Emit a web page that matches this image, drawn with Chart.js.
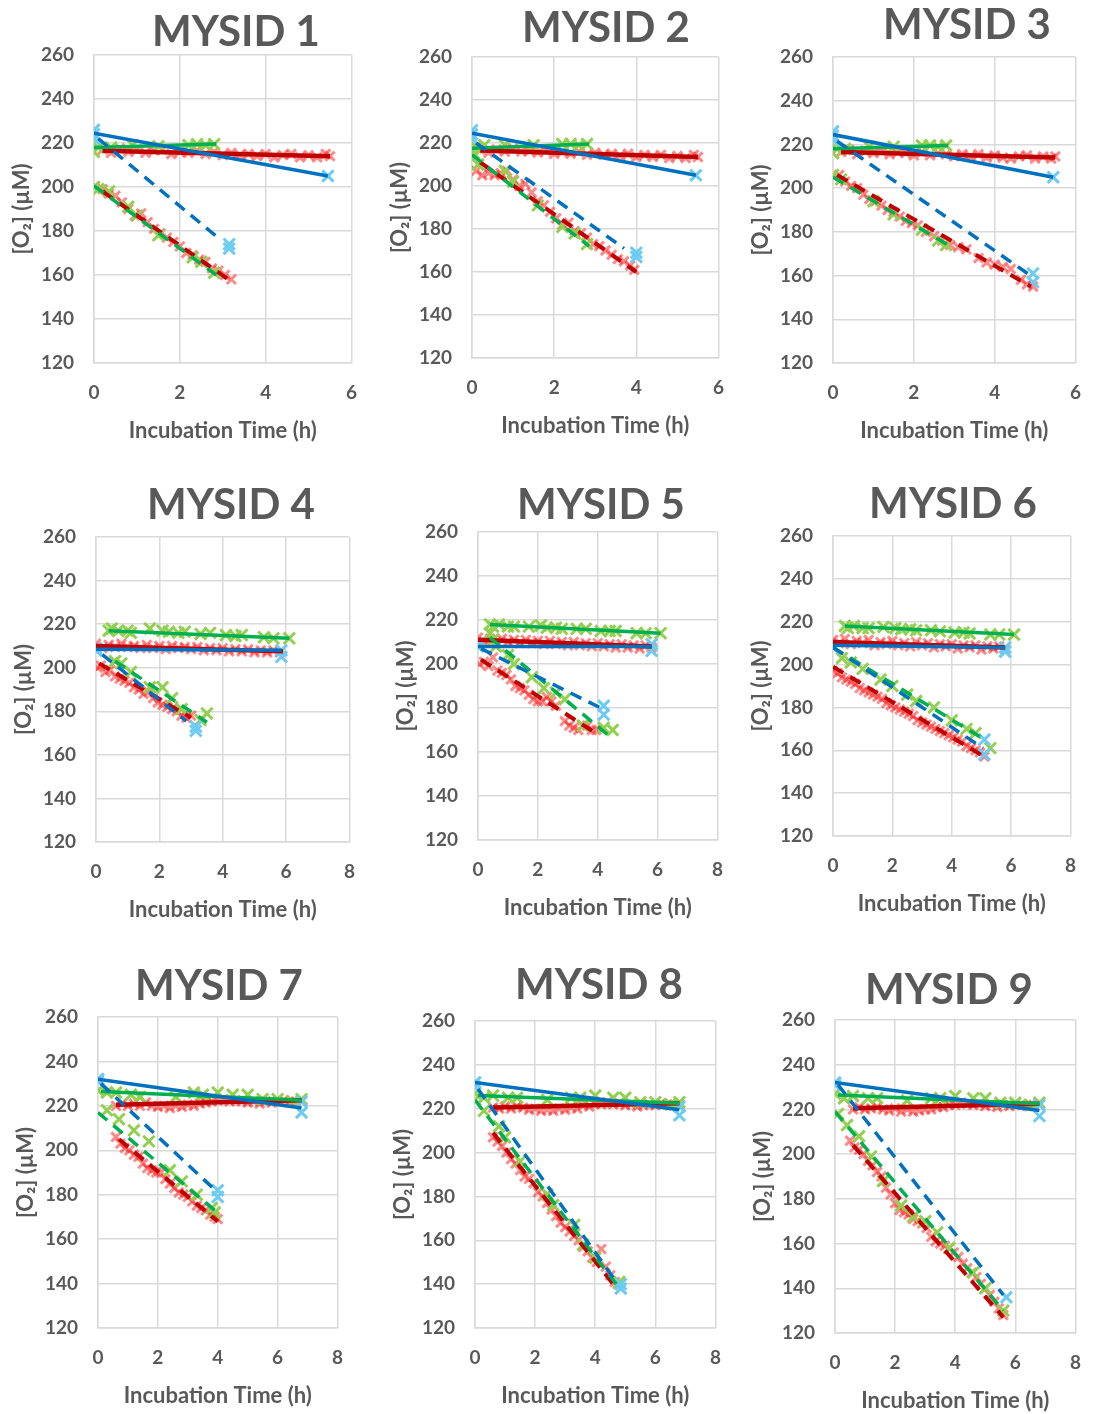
<!DOCTYPE html>
<html><head><meta charset="utf-8">
<script src="https://cdn.jsdelivr.net/npm/chart.js@4.4.1/dist/chart.umd.min.js"></script>
<style>
html,body{margin:0;padding:0;background:#fff;overflow:hidden;width:1097px;height:1414px;position:relative;}
canvas{position:absolute;}
</style></head><body>
<script>
// ---------------- DATA ----------------
const titles = ['MYSID 1','MYSID 2','MYSID 3','MYSID 4','MYSID 5','MYSID 6','MYSID 7','MYSID 8','MYSID 9'];
const xMaxes = [6,6,6,8,8,8,8,8,8];
const yMin = 120, yMax = 260, yStep = 20, xStep = 2;
const xAxisTitle = 'Incubation Time (h)';
const yAxisTitle = '[O₂] (µM)';

// blue (light-blue markers, blue trend lines)
const blueCtrlPts = [
  [[0,224],[0,226],[5.45,205]],
  [[0,224],[0,226],[5.45,205]],
  [[0,224],[0,226],[5.45,205]],
  [[0,208],[0,209],[5.85,208],[5.85,205]],
  [[0,208],[0,209],[5.8,209],[5.8,206]],
  [[0,208],[0,209],[5.8,208],[5.8,206]],
  [[0,232],[0,231],[6.8,217],[6.8,222]],
  [[0,232],[0,230],[6.8,217],[6.8,221]],
  [[0,232],[0,231],[6.8,217],[6.8,222]]
];
const blueExpPts = [
  [[0,222],[3.15,172],[3.15,174]],
  [[0,222],[4.0,167],[4.0,169]],
  [[0,222],[4.95,161],[4.95,157]],
  [[0,208],[3.15,171],[3.15,173]],
  [[0,208],[4.2,181],[4.2,177]],
  [[0,208],[5.1,165],[5.1,158]],
  [[0,232],[4.0,182],[4.0,179]],
  [[0,232],[4.85,138],[4.85,140]],
  [[0,232],[5.7,136]]
];
const blueCtrlFit = [[0,224.5,5.45,205],[0,224.5,5.45,205],[0,224.5,5.45,205],[0,208.5,5.85,208],[0,208,5.8,208],[0,209,5.8,208],[0,232,6.8,219],[0,232,6.8,219.5],[0,232,6.8,219.5]];
const blueExpFit  = [[0.1,222,2.95,176],[0.1,220,3.7,171],[0.1,221.5,4.85,160.5],[0.2,206,2.85,175.5],[0.1,207,4.1,180],[0,208,5.05,161],[0.1,230,4.0,181],[0.1,229,4.7,141],[0.1,231,5.6,137]];

// green (light-green markers, green trend lines)
const greenCtrlPts = [
  [[0,216],[0.1,218],[0.4,218],[0.9,219],[1.5,218.5],[2.2,219],[2.4,219.5],[2.6,219],[2.8,219.5]],
  [[0,217],[0.1,218],[0.3,219],[0.8,219],[1.5,219],[2.2,219.5],[2.4,219.5],[2.6,219],[2.8,219.5]],
  [[0,216],[0.1,218],[0.3,218],[0.9,219],[1.5,219],[2.2,219.5],[2.4,219.5],[2.6,219],[2.8,219.5]],
  [[0.4,217],[0.5,218],[0.7,217],[1.0,217],[1.1,216],[1.7,218],[2.1,217],[2.3,216.5],[2.6,216],[2.8,216.5],[3.3,215.5],[3.6,216],[4.1,215],[4.4,214.5],[4.6,215],[5.3,214],[5.6,213.5],[6.1,213.5]],
  [[0.4,218],[0.5,217],[0.7,218],[1.0,217],[1.2,217],[1.7,217],[2.1,217.5],[2.3,216.5],[2.6,216.5],[2.8,216],[3.3,216],[3.6,216],[4.1,215],[4.4,215],[4.6,215],[5.3,214],[5.6,214],[6.1,214]],
  [[0.4,218],[0.5,217],[0.7,218],[1.0,217],[1.2,217],[1.7,217.5],[2.1,217],[2.3,216.5],[2.6,216.5],[2.8,216],[3.3,216],[3.6,215.5],[4.1,215],[4.4,215],[4.6,214.5],[5.3,214],[5.6,214],[6.1,214]],
  [[0,227],[0.3,226],[0.6,226],[1.1,225],[1.4,224],[2.6,224],[3.2,226],[3.5,225],[4.0,226],[4.5,225],[5.0,225],[5.5,223],[6.0,223],[6.5,222],[6.8,223]],
  [[0,227],[0.3,225],[0.6,226],[1.1,225],[1.4,225],[2.4,224],[3.2,225],[3.5,225],[4.0,226],[4.6,225],[5.0,225],[5.5,223],[6.0,223],[6.5,222],[6.8,223]],
  [[0,227],[0.3,225],[0.6,226],[1.1,225],[1.4,225],[2.4,224],[3.2,225],[3.5,225],[4.0,226],[4.6,225],[5.0,225],[5.5,223],[6.0,223],[6.5,222],[6.8,223]]
];
const greenExpPts = [
  [[0,200],[0.1,199],[0.35,198],[0.8,191],[1.0,187],[1.5,178],[2.3,168],[2.5,166],[2.8,161]],
  [[0,213],[0.05,215],[0.15,210],[0.8,207],[1.0,202],[1.6,191],[2.2,181],[2.5,178],[2.8,173]],
  [[0,206],[0.2,204],[1.0,194],[1.5,188],[2.2,181],[2.6,176],[2.8,174]],
  [[0.6,203],[0.8,202],[1.1,198],[1.7,191],[2.1,191],[2.4,186],[2.7,181],[3.3,176],[3.5,179]],
  [[0.4,214],[0.5,211],[0.6,208],[1.0,204],[1.2,200],[1.8,194],[2.2,189],[2.6,187],[2.9,184],[3.5,172],[4.2,171],[4.5,170]],
  [[0.3,203],[0.6,201],[1.0,198],[1.6,193],[2.0,190],[2.5,186],[2.8,183],[3.4,180],[4.0,174],[4.5,170],[4.8,168],[5.3,161]],
  [[0.3,218],[0.7,214],[1.2,209],[1.7,204],[2.4,191],[2.8,186],[3.3,180],[3.8,174],[3.9,172]],
  [[0,224],[0.3,219],[0.8,212],[1.0,207],[1.5,196],[2.4,181],[2.6,176],[3.3,167],[3.6,158],[4.0,152],[4.8,141]],
  [[0.1,218],[0.4,213],[0.8,208],[1.2,199],[1.6,188],[2.2,177],[2.6,172],[3.0,170],[3.4,165],[3.8,158],[4.6,147],[5.0,140],[5.6,130]]
];
const greenCtrlFit = [[0,218,2.85,219.5],[0,217.5,2.85,219.5],[0,218,2.85,219.5],[0.4,217,6.1,213.5],[0.4,218,6.1,214],[0.4,218,6.1,214],[0.1,226.5,6.8,222.5],[0.1,226,6.8,222.5],[0.1,226.5,6.8,222.5]];
const greenExpFit  = [[0,200.5,2.85,160],[0,214.5,2.85,172],[0,205,2.85,174],[0.6,203,3.5,175],[0.4,212,4.5,166],[0,208,5.1,165],[0,217,3.9,173],[0,224,4.7,140],[0,219,5.6,130]];

// red (translucent red markers, dark-red trend lines)
const redCtrlPts = [
  [[0.2,217],[0.4,215.5],[0.6,217.5],[0.8,216],[1.0,217],[1.2,215.5],[1.4,216.5],[1.6,217],[1.8,215],[2.0,216],[2.2,215.5],[2.4,216.5],[2.6,215],[2.8,216],[3.0,214.5],[3.2,215.5],[3.4,214.5],[3.6,215],[3.8,214],[4.0,215],[4.2,213.5],[4.4,214.5],[4.6,215],[4.8,213.5],[5.0,214.5],[5.2,213.5],[5.4,215],[5.5,214]],
  [[0.2,217],[0.4,215.5],[0.6,217],[0.8,216],[1.0,217.5],[1.2,216],[1.4,216.5],[1.6,215.5],[1.8,216.5],[2.0,215],[2.2,216],[2.4,215],[2.6,216],[2.8,214.5],[3.0,215.5],[3.2,214.5],[3.4,215],[3.6,214],[3.8,215],[4.0,213.5],[4.2,214.5],[4.4,213.5],[4.6,214.5],[4.8,213],[5.0,214],[5.2,213],[5.4,214.5],[5.5,213.5]],
  [[0.2,216.5],[0.4,217.5],[0.6,215.5],[0.8,217],[1.0,216],[1.2,217],[1.4,215.5],[1.6,216.5],[1.8,216],[2.0,215],[2.2,216.5],[2.4,215],[2.6,216],[2.8,215.5],[3.0,214.5],[3.2,215.5],[3.4,214.5],[3.6,215.5],[3.8,214],[4.0,215],[4.2,214],[4.4,213.5],[4.6,214.5],[4.8,215],[5.0,213.5],[5.2,214.5],[5.4,213.5],[5.5,214.5]],
  [[0,211],[0.2,209],[0.4,210.5],[0.6,209.5],[0.8,211],[1.0,209.5],[1.2,210],[1.4,209],[1.6,210.5],[1.8,209],[2.0,210],[2.2,208.5],[2.4,210],[2.6,209],[2.8,209.5],[3.0,208.5],[3.2,209.5],[3.4,208],[3.6,209],[3.8,208],[4.0,209],[4.2,207.5],[4.4,208.5],[4.6,207.5],[4.8,208.5],[5.0,207],[5.2,208],[5.4,207],[5.6,208],[5.8,207]],
  [[0,212],[0.2,210],[0.4,211.5],[0.6,210],[0.8,211.5],[1.0,210],[1.2,211],[1.4,209.5],[1.6,211],[1.8,209.5],[2.0,210.5],[2.2,209],[2.4,210.5],[2.6,209],[2.8,210],[3.0,208.5],[3.2,210],[3.4,208.5],[3.6,209.5],[3.8,208],[4.0,209.5],[4.2,208],[4.4,209],[4.6,207.5],[4.8,209],[5.0,207.5],[5.2,208.5],[5.4,207],[5.6,208.5],[5.8,207.5]],
  [[0,211.5],[0.2,210],[0.4,212],[0.6,209.5],[0.8,211],[1.0,210],[1.2,211.5],[1.4,209],[1.6,210.5],[1.8,209.5],[2.0,211],[2.2,209],[2.4,210],[2.6,208.5],[2.8,210.5],[3.0,209],[3.2,210],[3.4,208],[3.6,209.5],[3.8,208.5],[4.0,209.5],[4.2,207.5],[4.4,209],[4.6,208],[4.8,209],[5.0,207],[5.2,208.5],[5.4,207.5],[5.6,208.5],[5.8,207]],
  [[0.6,220],[0.8,221],[1.0,220],[1.2,221],[1.4,220],[1.6,221.5],[1.8,220],[2.0,219.5],[2.2,220],[2.4,219],[2.6,220],[2.8,219.5],[3.0,220.5],[3.2,220],[3.4,221],[3.6,221.5],[3.8,222],[4.0,222.5],[4.2,223],[4.4,222],[4.6,222.5],[4.8,222],[5.0,221.5],[5.2,222],[5.4,221],[5.6,222],[5.8,221.5],[6.0,222],[6.2,222.5],[6.4,221.5],[6.6,222],[6.8,222]],
  [[0.6,220.5],[0.8,220],[1.0,221],[1.2,220],[1.4,221],[1.6,220.5],[1.8,219.5],[2.0,220],[2.2,219],[2.4,219.5],[2.6,219],[2.8,220],[3.0,219.5],[3.2,220.5],[3.4,220],[3.6,221.5],[3.8,221],[4.0,222.5],[4.2,222],[4.4,223],[4.6,222],[4.8,222.5],[5.0,221.5],[5.2,222],[5.4,221],[5.6,221.5],[5.8,222],[6.0,221.5],[6.2,222.5],[6.4,222],[6.6,221.5],[6.8,222]],
  [[0.6,220],[0.8,221],[1.0,220],[1.2,220.5],[1.4,221],[1.6,220],[1.8,219.5],[2.0,220.5],[2.2,219],[2.4,220],[2.6,219],[2.8,219.5],[3.0,220],[3.2,220],[3.4,221],[3.6,221],[3.8,222],[4.0,222],[4.2,223],[4.4,222.5],[4.6,222],[4.8,222.5],[5.0,221.5],[5.2,222],[5.4,221],[5.6,222],[5.8,221.5],[6.0,222],[6.2,222.5],[6.4,221.5],[6.6,222],[6.8,222]]
];
const redExpPts = [
  [[0.2,199],[0.35,197],[0.5,196],[0.65,193],[0.8,190],[0.95,187],[1.1,188],[1.25,184],[1.4,181],[1.55,179],[1.7,177],[1.85,175],[2.0,173],[2.15,170],[2.3,169],[2.45,167],[2.6,166],[2.75,163],[2.9,162],[3.05,160],[3.2,158]],
  [[0.1,207],[0.25,205],[0.4,206],[0.55,205],[0.7,206],[0.85,207],[1.0,203],[1.15,200],[1.3,201],[1.45,197],[1.6,193],[1.75,191],[1.9,188],[2.05,185],[2.2,182],[2.35,183],[2.5,179],[2.65,178],[2.8,176],[2.95,173],[3.1,172],[3.25,170],[3.4,168],[3.55,166],[3.7,165],[3.85,163],[3.95,161]],
  [[0.15,206],[0.3,203],[0.45,201],[0.6,200],[0.75,197],[0.9,195],[1.05,194],[1.2,192],[1.35,190],[1.5,189],[1.65,187],[1.8,185],[1.95,184],[2.1,183],[2.3,180],[2.5,178],[2.7,176],[2.9,174],[3.1,173],[3.3,172],[3.6,168],[3.8,166],[4.0,165],[4.2,164],[4.4,163],[4.65,158],[4.8,156],[4.95,155]],
  [[0.05,200],[0.15,201],[0.3,198],[0.45,199],[0.6,196],[0.75,195],[0.9,194],[1.05,193],[1.2,191],[1.35,190],[1.5,188],[1.65,189],[1.8,186],[1.95,184],[2.1,183],[2.25,182],[2.4,181],[2.55,180],[2.7,178],[2.85,177],[3.0,178]],
  [[0.05,200],[0.2,201],[0.35,199],[0.5,203],[0.65,197],[0.8,196],[0.95,195],[1.1,193],[1.25,190],[1.4,189],[1.55,188],[1.7,186],[1.85,184],[2.0,183],[2.15,183],[2.3,185],[2.45,183],[2.6,181],[2.9,174],[3.05,172],[3.2,171],[3.35,170],[3.5,172],[3.65,172],[3.8,170],[3.95,170]],
  [[0,197],[0.15,196],[0.3,194],[0.45,193],[0.6,192],[0.75,191],[0.9,189],[1.05,188],[1.2,187],[1.35,186],[1.5,185],[1.65,184],[1.8,182],[1.95,181],[2.1,180],[2.25,179],[2.4,178],[2.55,177],[2.7,176],[2.85,174],[3.0,173],[3.15,172],[3.3,171],[3.45,170],[3.6,169],[3.75,168],[3.9,167],[4.05,166],[4.2,165],[4.35,164],[4.5,162],[4.65,161],[4.8,160],[4.95,159],[5.1,157]],
  [[0.6,206],[0.75,203],[0.9,201],[1.05,200],[1.2,198],[1.35,197],[1.5,194],[1.65,192],[1.8,191],[1.95,190],[2.1,190],[2.25,187],[2.4,185],[2.55,183],[2.7,181],[2.85,180],[3.0,179],[3.15,177],[3.3,175],[3.45,174],[3.6,173],[3.75,171],[3.9,170],[4.0,169]],
  [[0.6,207],[0.75,205],[0.9,203],[1.05,200],[1.2,197],[1.35,195],[1.5,192],[1.65,189],[1.8,188],[1.95,186],[2.1,182],[2.25,180],[2.4,177],[2.55,174],[2.7,171],[2.85,168],[3.0,166],[3.15,164],[3.3,162],[3.45,160],[3.6,157],[3.75,155],[3.9,152],[4.05,150],[4.2,156],[4.35,148],[4.5,144],[4.65,141],[4.75,140]],
  [[0.5,206],[0.65,203],[0.8,202],[0.95,200],[1.1,197],[1.25,195],[1.4,192],[1.55,190],[1.7,185],[1.85,182],[2.0,178],[2.15,175],[2.3,174],[2.45,173],[2.6,171],[2.75,170],[2.9,169],[3.05,167],[3.2,163],[3.35,161],[3.5,160],[3.65,159],[3.8,158],[3.95,156],[4.1,154],[4.25,151],[4.4,149],[4.55,147],[4.7,145],[4.85,142],[5.0,140],[5.15,137],[5.3,134],[5.45,131],[5.6,128]]
];
const redCtrlFit = [[0.2,216.5,5.5,214],[0.2,216.5,5.5,213.5],[0.2,216.5,5.5,214],[0,210,5.9,207.5],[0,211,5.8,208],[0,210.5,5.8,208],[0.6,220.5,6.8,222.5],[0.6,220.5,6.8,222.5],[0.6,220.5,6.8,222.5]];
const redExpFit  = [[0.2,198,3.2,157],[0.2,211,4.0,160],[0.1,206,4.9,155],[0.1,202,3.0,177],[0.1,202,4.0,168],[0,199,5.1,157],[0.7,205,4.0,168],[0.6,209,4.6,140],[0.6,204,5.6,127]];

// ---------------- LAYOUT (plot-area rectangles and title centres, page px) ----------------
const plotRects = [[94,55,363,363],[472,57,730,358],[833,57,1087,363],[96,537,361,842],[478,532,729,840],[833,536,1082,836],[98,1017,349,1328],[475,1021,727,1328],[835,1020,1087,1333]];
const titleCenters = [[236,31],[606,27],[967,24],[231,504],[601,504],[953,503],[219,985],[599,984],[949,989]];
const AXW = 100, AXH = 90, PADTOP = 62, PADRIGHT = 12;

const TXT = '#595959', GRID = '#D9D9D9', FONT = 'Lato, "Open Sans", sans-serif';
Chart.defaults.font.family = FONT;

const toXY = arr => arr.map(p => ({x: p[0], y: p[1]}));
const fitXY = f => [{x: f[0], y: f[1]}, {x: f[2], y: f[3]}];

function markerSet(pts, color, r, w, order) {
  return {type: 'scatter', data: toXY(pts), showLine: false, pointStyle: 'crossRot',
    pointRadius: r, pointHoverRadius: r, pointBorderWidth: w, borderColor: color,
    backgroundColor: color, pointBorderColor: color, order: order};
}
function lineSet(fit, color, w, dashed, order) {
  return {type: 'scatter', data: fitXY(fit), showLine: true, pointRadius: 0, pointHoverRadius: 0,
    borderColor: color, borderWidth: w, borderDash: dashed ? [12, 8] : [], backgroundColor: color,
    borderCapStyle: 'butt', order: order};
}

titles.forEach((t, i) => {
  const [L, T, R, B] = plotRects[i];
  const cv = document.createElement('canvas');
  const w = (R - L) + AXW + PADRIGHT, h = (B - T) + PADTOP + AXH;
  const cl = L - AXW, ct = T - PADTOP;
  cv.width = w; cv.height = h;
  cv.style.left = cl + 'px'; cv.style.top = ct + 'px';
  cv.style.width = w + 'px'; cv.style.height = h + 'px';
  document.body.appendChild(cv);

  const titlePlugin = {
    id: 'panelTitle',
    afterDraw(chart) {
      const c = chart.ctx;
      c.save();
      c.font = 'bold 42px ' + FONT;
      c.fillStyle = TXT;
      c.textAlign = 'center';
      c.textBaseline = 'alphabetic';
      c.fillText(t, titleCenters[i][0] - cl, titleCenters[i][1] - ct + 15);
      c.restore();
    }
  };

  new Chart(cv, {
    type: 'scatter',
    data: {
      datasets: [
        markerSet(redCtrlPts[i], 'rgba(255,20,20,0.5)', 6.5, 3, 9),
        markerSet(redExpPts[i], 'rgba(255,20,20,0.5)', 6.5, 3, 8),
        markerSet(greenCtrlPts[i], '#92D050', 8, 3, 7),
        markerSet(greenExpPts[i], '#92D050', 8, 3, 6),
        markerSet(blueCtrlPts[i], '#6CCBF3', 8, 3, 5),
        markerSet(blueExpPts[i], '#6CCBF3', 8, 3, 4),
        lineSet(redCtrlFit[i], '#C00000', 4.5, false, 3),
        lineSet(redExpFit[i], '#C00000', 4, true, 3),
        lineSet(greenCtrlFit[i], '#00B050', 3.5, false, 2),
        lineSet(greenExpFit[i], '#00B050', 3.5, true, 2),
        lineSet(blueCtrlFit[i], '#0070C0', 3.5, false, 1),
        lineSet(blueExpFit[i], '#0070C0', 3.5, true, 1)
      ]
    },
    options: {
      responsive: false, animation: false, devicePixelRatio: 1,
      layout: {padding: {top: PADTOP, right: PADRIGHT, left: 0, bottom: 0}},
      plugins: {legend: {display: false}, tooltip: {enabled: false}, title: {display: false}},
      events: [],
      scales: {
        x: {
          type: 'linear', min: 0, max: xMaxes[i],
          ticks: {stepSize: xStep, color: TXT, padding: 18, font: {size: 19, weight: 'bold', lineHeight: 1.2}},
          grid: {color: GRID, lineWidth: 1.5, drawTicks: false},
          border: {color: GRID, width: 1.5},
          title: {display: true, text: xAxisTitle, color: TXT, font: {size: 22, weight: 'bold', lineHeight: 1}, padding: {top: 0, bottom: 11}},
          afterFit: s => { s.height = AXH; }
        },
        y: {
          type: 'linear', min: yMin, max: yMax,
          ticks: {stepSize: yStep, color: TXT, padding: 20, font: {size: 19, weight: 'bold'}},
          grid: {color: GRID, lineWidth: 1.5, drawTicks: false},
          border: {color: GRID, width: 1.5},
          title: {display: true, text: yAxisTitle, color: TXT, font: {size: 22, weight: 'bold', lineHeight: 1}, padding: {top: 17, bottom: 0}},
          afterFit: s => { s.width = AXW; }
        }
      }
    },
    plugins: [titlePlugin]
  });
});
</script>
</body></html>
